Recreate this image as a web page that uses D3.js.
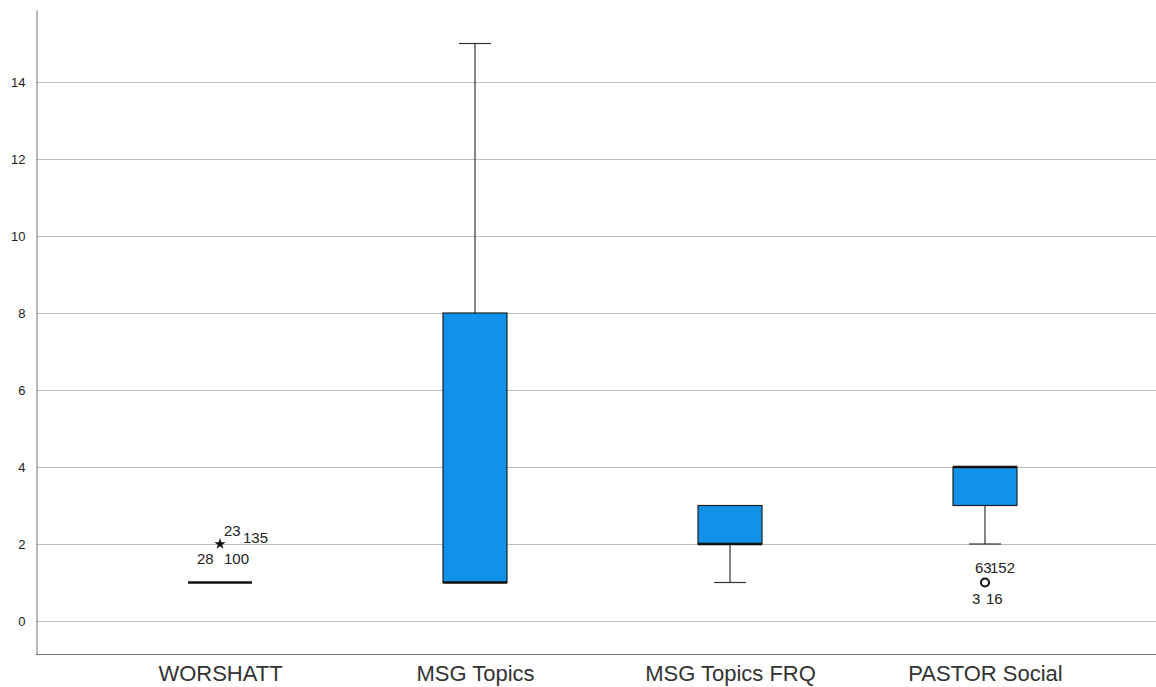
<!DOCTYPE html>
<html>
<head>
<meta charset="utf-8">
<script src="https://cdn.jsdelivr.net/npm/d3@7"></script>
<style>
  body { margin: 0; background: #fff; }
  text { font-family: Arial, "Liberation Sans", sans-serif; }
</style>
</head>
<body>
<div id="chart"></div>
<script>
// Box plot data
const categories = ["WORSHATT", "MSG Topics", "MSG Topics FRQ", "PASTOR Social"];
const whiskerLow = [1, 1, 1, 2];
const q1 = [1, 1, 2, 3];
const median = [1, 1, 2, 4];
const q3 = [1, 8, 3, 4];
const whiskerHigh = [1, 15, 3, 4];
const yTicks = [0, 2, 4, 6, 8, 10, 12, 14];

// outliers: category, value, kind, case labels
const outliers = [
    { category: "WORSHATT", value: 2, kind: "extreme", labels: ["23", "135", "28", "100"] },
    { category: "PASTOR Social", value: 1, kind: "outlier", labels: ["63", "152", "3", "16"] }
];

const width = 1156;
const height = 687;

const svg = d3.select("#chart")
    .append("svg")
    .attr("width", width)
    .attr("height", height);

const plotLeft = 36, plotRight = 1156, plotTop = 10, plotBottom = 654;

const y = d3.scaleLinear()
    .domain([-0.857, 15.87])
    .range([plotBottom, plotTop]);

const x = d3.scalePoint()
    .domain(categories)
    .range([220, 985]);

const boxW = 64;
const capW = 32;

// gridlines
svg.append("g")
    .selectAll("line")
    .data(yTicks)
    .enter()
    .append("line")
    .attr("x1", plotLeft)
    .attr("x2", plotRight)
    .attr("y1", d => Math.round(y(d)) + 0.5)
    .attr("y2", d => Math.round(y(d)) + 0.5)
    .attr("stroke", "#bdbdbd")
    .attr("stroke-width", 1);

// y axis
const yAxis = svg.append("g")
    .attr("transform", `translate(${plotLeft + 0.5},0)`)
    .call(d3.axisLeft(y).tickValues(yTicks).tickSize(0).tickPadding(11));
yAxis.select(".domain").attr("stroke", "#777");
yAxis.selectAll("text")
    .attr("font-size", 13)
    .attr("fill", "#222");

// x axis
const xAxis = svg.append("g")
    .attr("transform", `translate(0,${plotBottom + 0.5})`)
    .call(d3.axisBottom(x).tickSize(0).tickPadding(11));
xAxis.select(".domain").attr("stroke", "#777").attr("d", `M${plotLeft},0H${plotRight}`);
xAxis.selectAll("text")
    .attr("font-size", 22)
    .attr("fill", "#333");

const rows = categories.map((c, i) => ({
    category: c, lo: whiskerLow[i], q1: q1[i], med: median[i], q3: q3[i], hi: whiskerHigh[i]
}));

const g = svg.append("g");

rows.forEach(d => {
    const cx = x(d.category);
    if (d.hi > d.q3) {
        g.append("line")
            .attr("x1", cx).attr("x2", cx)
            .attr("y1", y(d.hi)).attr("y2", y(d.q3))
            .attr("stroke", "#333").attr("stroke-width", 1.2);
        g.append("line")
            .attr("x1", cx - capW / 2).attr("x2", cx + capW / 2)
            .attr("y1", y(d.hi)).attr("y2", y(d.hi))
            .attr("stroke", "#333").attr("stroke-width", 1.2);
    }
    if (d.lo < d.q1) {
        g.append("line")
            .attr("x1", cx).attr("x2", cx)
            .attr("y1", y(d.q1)).attr("y2", y(d.lo))
            .attr("stroke", "#333").attr("stroke-width", 1.2);
        g.append("line")
            .attr("x1", cx - capW / 2).attr("x2", cx + capW / 2)
            .attr("y1", y(d.lo)).attr("y2", y(d.lo))
            .attr("stroke", "#333").attr("stroke-width", 1.2);
    }
    if (d.q3 > d.q1) {
        g.append("rect")
            .attr("x", cx - boxW / 2)
            .attr("y", y(d.q3))
            .attr("width", boxW)
            .attr("height", y(d.q1) - y(d.q3))
            .attr("fill", "#1192e8")
            .attr("stroke", "#222")
            .attr("stroke-width", 1.2);
    }
    g.append("line")
        .attr("x1", cx - boxW / 2).attr("x2", cx + boxW / 2)
        .attr("y1", y(d.med)).attr("y2", y(d.med))
        .attr("stroke", "#111").attr("stroke-width", 2.5);
});

// outliers
outliers.forEach(o => {
    const cx = x(o.category);
    const cy = y(o.value);
    if (o.kind === "extreme") {
        g.append("path")
            .attr("d", d3.symbol().type(d3.symbolStar).size(40)())
            .attr("transform", `translate(${cx},${cy})`)
            .attr("fill", "#111");
    } else {
        g.append("circle")
            .attr("cx", cx).attr("cy", cy).attr("r", 4)
            .attr("fill", "none")
            .attr("stroke", "#111")
            .attr("stroke-width", 2);
    }
    const lab = g.append("g").attr("font-size", 15).attr("fill", "#222");
    if (o.kind === "extreme") {
        lab.append("text").attr("x", cx + 4).attr("y", cy - 8).text(o.labels[0]);
        lab.append("text").attr("x", cx + 23).attr("y", cy - 1).text(o.labels[1]);
        lab.append("text").attr("x", cx - 23).attr("y", cy + 20).text(o.labels[2]);
        lab.append("text").attr("x", cx + 4).attr("y", cy + 20).text(o.labels[3]);
    } else {
        lab.append("text").attr("x", cx - 10).attr("y", cy - 10).text(o.labels[0]);
        lab.append("text").attr("x", cx + 5).attr("y", cy - 10).text(o.labels[1]);
        lab.append("text").attr("x", cx - 13).attr("y", cy + 21).text(o.labels[2]);
        lab.append("text").attr("x", cx + 1).attr("y", cy + 21).text(o.labels[3]);
    }
});
</script>
</body>
</html>
